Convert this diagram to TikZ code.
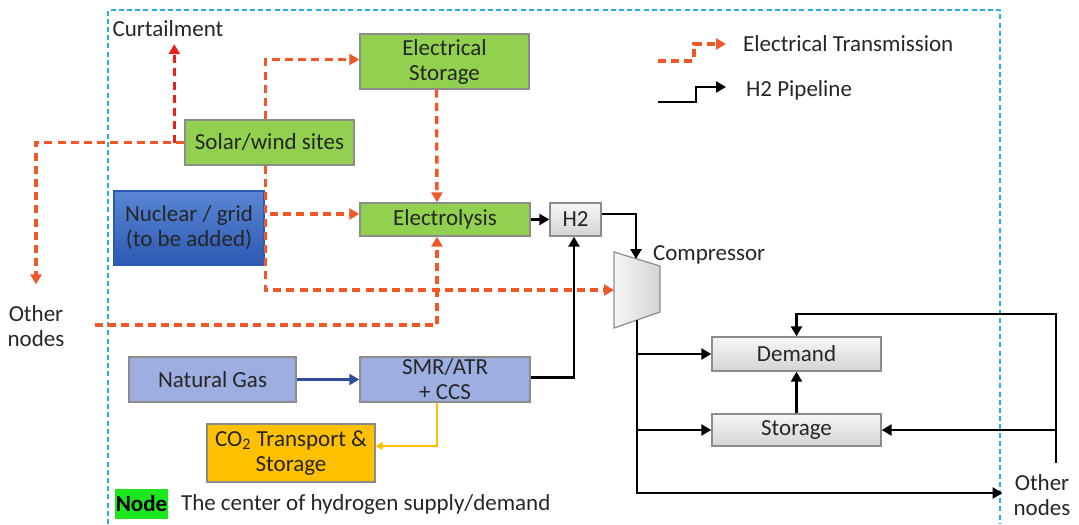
\documentclass[tikz,border=0pt]{standalone}
\usepackage{fontspec}
\setmainfont{Carlito}
\usepackage{tikz}
\usetikzlibrary{arrows.meta, calc}
\definecolor{elecline}{HTML}{F0582A}
\definecolor{curtred}{HTML}{E8201E}
\definecolor{sitegreen}{HTML}{92D050}
\definecolor{nuctop}{HTML}{5A86D4}
\definecolor{nucbot}{HTML}{2C59B2}
\definecolor{gasblue}{HTML}{9DAEE1}
\definecolor{co2fill}{HTML}{FFC000}
\definecolor{boxedge}{HTML}{8C8C8C}
\definecolor{graytop}{HTML}{F6F6F6}
\definecolor{graybot}{HTML}{D4D4D4}
\definecolor{borderblue}{HTML}{29AEE6}
\definecolor{legendgreen}{HTML}{1EE61E}
\definecolor{ngarrow}{HTML}{2F4E9E}
\definecolor{textdark}{HTML}{262626}
\tikzset{
    unitblock/.style={
        rectangle, draw=boxedge, fill=#1, line width=0.7pt,
        font=\fontsize{11.5}{12.5}\selectfont, text=textdark,
        align=center, inner sep=0pt
    },
    unitblock/.default=sitegreen,
    grayblock/.style={
        unitblock, top color=graytop, bottom color=graybot
    },
    plainlab/.style={
        font=\fontsize{11.5}{12.5}\selectfont, text=textdark, align=center
    },
    elecarrow/.style={
        -{Triangle[length=5pt, width=5.5pt]}, draw=elecline,
        line width=1.7pt, dash pattern=on 4pt off 2.6pt
    },
    curtarrow/.style={
        elecarrow, draw=curtred
    },
    pipearrow/.style={
        -{Triangle[length=5pt, width=5.5pt]}, draw=black, line width=1.45pt
    },
    gasarrow/.style={
        -{Triangle[length=5pt, width=5.5pt]}, draw=ngarrow, line width=1.2pt
    },
    co2arrow/.style={
        -{Triangle[length=3.5pt, width=4pt]}, draw=co2fill, line width=0.7pt
    },
}

\begin{document}
\begin{tikzpicture}[x=0.5pt, y=-0.5pt]
    \useasboundingbox (0,0) rectangle (1079,524);

    % System border
    \draw[borderblue, line width=0.6pt, dash pattern=on 2.5pt off 1.6pt]
        (108,524) -- (108,10) -- (1000,10) -- (1000,524);

    % Units
    \node[unitblock, minimum width=84.5pt, minimum height=27.5pt] (elecstor) at (444.5,61.5) {Electrical\\Storage};
    \node[unitblock, minimum width=84.5pt, minimum height=22.5pt] (solar) at (269.5,142.5) {Solar/wind sites};
    \node[unitblock, minimum width=85pt, minimum height=16.5pt] (elys) at (445,219.5) {Electrolysis};
    \node[unitblock, draw=nucbot, top color=nuctop, bottom color=nucbot, minimum width=75pt, minimum height=37pt] (nuclear) at (189,228) {Nuclear / grid\\(to be added)};
    \node[grayblock, minimum width=25.5pt, minimum height=16.5pt] (htwo) at (575.5,219.5) {H2};
    \node[unitblock=gasblue, minimum width=83.5pt, minimum height=22.5pt] (natgas) at (212.5,379.5) {Natural Gas};
    \node[unitblock=gasblue, minimum width=85pt, minimum height=22.5pt] (smr) at (445,379.5) {SMR/ATR\\+ CCS};
    \node[unitblock=co2fill, minimum width=84pt, minimum height=29pt] (cotwo) at (291,453) {CO\textsubscript{2} Transport \&\\Storage};
    \node[grayblock, minimum width=84.5pt, minimum height=17pt] (demand) at (796.5,354) {Demand};
    \node[grayblock, minimum width=84.5pt, minimum height=16pt] (hstor) at (796.5,430) {Storage};

    % Compressor
    \shade[left color=graytop, right color=graybot, draw=boxedge, line width=0.6pt]
        (614,252) -- (660,266) -- (660,312) -- (614,328) -- cycle;
    \coordinate (comptop) at (636,259);
    \coordinate (compleft) at (614,290);
    \coordinate (compbot) at (637,320);
    \node[plainlab, anchor=west] (complab) at (646,255) {Compressor};

    % Free labels
    \node[plainlab] (curt) at (168,29) {Curtailment};
    \node[plainlab] (othleft) at (36,326) {Other\\nodes};
    \node[plainlab] (othright) at (1042,495) {Other\\nodes};
    \coordinate (olsrc) at (95,325);
    \coordinate (orsrc) at (1056,463);
    \coordinate (ortop) at (1056,314);

    % Electrical transmission
    \draw[curtarrow] ([xshift=-5pt]solar.west) -- ([xshift=-5pt]solar.west |- curt.south);
    \draw[elecarrow] (solar.west) -| ([yshift=7pt]othleft.north);
    \draw[elecarrow] ([xshift=-2pt]solar.north) |- ([yshift=1pt]elecstor.west);
    \draw[elecarrow] ([xshift=-2pt]solar.south) |- ([yshift=2.75pt]elys.west);
    \draw[elecarrow] ([xshift=-2pt]solar.south) |- (compleft);
    \draw[elecarrow] ([xshift=-4pt]elecstor.south) -- ([xshift=-4pt]elys.north);
    \draw[elecarrow] (olsrc) -| ([xshift=-4pt]elys.south);

    % H2 pipelines
    \draw[pipearrow] (elys.east) -- (htwo.west);
    \draw[pipearrow] ([yshift=2.75pt]htwo.east) -| (comptop);
    \draw[pipearrow] ([yshift=1pt]smr.east) -| ([xshift=-0.75pt]htwo.south);
    \draw[gasarrow] (natgas.east) -- (smr.west);
    \draw[co2arrow] ([xshift=-4pt]smr.south) |- ([yshift=3.5pt]cotwo.east);
    \draw[pipearrow] (compbot) |- ([yshift=1pt, xshift=-2pt]othright.west);
    \draw[pipearrow] (compbot |- demand.west) -- (demand.west);
    \draw[pipearrow] (compbot |- hstor.west) -- (hstor.west);
    \draw[pipearrow] (hstor.north) -- (demand.south);
    \draw[pipearrow] (orsrc) -- (ortop) -| (demand.north);
    \draw[pipearrow] (orsrc |- hstor.east) -- (hstor.east);

    % Legend
    \node[plainlab, anchor=west] (legelec) at (736,44) {Electrical Transmission};
    \node[plainlab, anchor=west] (legpipe) at (739,90) {H2 Pipeline};
    \coordinate (legelecsrc) at (658,61);
    \coordinate (legpipesrc) at (658,102);
    \draw[elecarrow] (legelecsrc) -- ++(36,0) |- ([xshift=-5pt, yshift=0pt]legelec.west);
    \draw[pipearrow] (legpipesrc) -- ++(38,0) |- ([xshift=-6.5pt, yshift=1.5pt]legpipe.west);
    \node[unitblock=legendgreen, draw=none, minimum width=26.5pt, minimum height=15pt, font=\fontsize{11.5}{12.5}\selectfont\bfseries, text=black] (legnode) at (141.5,504) {Node};
    \node[plainlab, anchor=west] (legnodetext) at (174,504) {The center of hydrogen supply/demand};

\end{tikzpicture}
\end{document}
